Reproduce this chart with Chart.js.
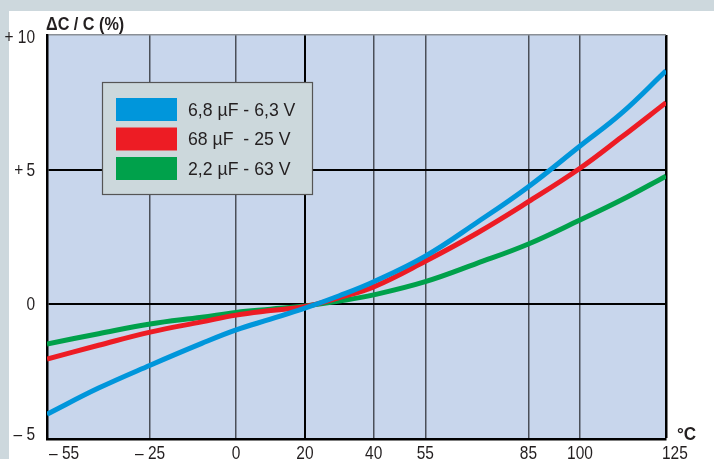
<!DOCTYPE html>
<html lang="en">
<head>
  <meta charset="UTF-8" />
  <title>Capacitance change vs temperature</title>
  <script src="https://cdn.jsdelivr.net/npm/chart.js"></script>
  <style>
    body { margin: 0; background: #fff; }
    #wrap { position: relative; width: 714px; height: 459px; }
    .band { position: absolute; background: #cdd8dd; }
    #bandTop { left: 0; top: 0; width: 714px; height: 11px; }
    #bandLeft { left: 0; top: 0; width: 9px; height: 459px; }
    canvas { position: absolute; left: 0; top: 0; }
  </style>
</head>
<body>
  <div id="wrap">
    <div class="band" id="bandTop"></div>
    <div class="band" id="bandLeft"></div>
    <canvas id="capChart" width="714" height="459"></canvas>
  </div>

  <script>
    // temperature (°C) and ΔC/C (%)
    const temps = [-55, -40, -25, -10, 0, 10, 20, 30, 40, 55, 70, 85, 100, 112, 125];
    const cap68_63V = [-4.08, -3.11, -2.26, -1.45, -0.95, -0.55, -0.14, 0.32, 0.84, 1.79, 3.04, 4.37, 5.88, 7.09, 8.67];
    const cap68_25V = [-2.03, -1.52, -1.03, -0.65, -0.40, -0.23, -0.08, 0.25, 0.65, 1.60, 2.64, 3.81, 5.05, 6.20, 7.49];
    const cap22_63V = [-1.47, -1.09, -0.73, -0.48, -0.30, -0.18, -0.06, 0.12, 0.35, 0.84, 1.52, 2.24, 3.13, 3.87, 4.76];

    const seriesLabels = ["6,8 \u00b5F - 6,3 V", "68 \u00b5F  - 25 V", "2,2 \u00b5F - 63 V"];
    const seriesColors = ["#0096db", "#ed1c24", "#00a14b"];

    const xTicks = [-55, -25, 0, 20, 40, 55, 85, 100, 125];
    const xTickLabels = ["\u2013 55", "\u2013 25", "0", "20", "40", "55", "85", "100", "125"];
    const yTicks = [-5, 0, 5, 10];
    const yTickLabels = ["\u2013 5", "0", "+\u20095", "+ 10"];

    const fontFamily = "'Liberation Sans', Arial, sans-serif";
    const textColor = "#231f20";

    function toPoints(values) {
      return temps.map((t, i) => ({ x: t, y: values[i] }));
    }

    // the original lettering is a condensed face, so squeeze it a bit
    function narrowText(ctx, text, x, y, align, squeeze) {
      ctx.save();
      ctx.translate(x, y);
      ctx.scale(squeeze, 1);
      ctx.textAlign = align;
      ctx.fillText(text, 0, 0);
      ctx.restore();
    }

    const plotBackground = {
      id: "plotBackground",
      beforeDraw(chart) {
        const { ctx, chartArea: a } = chart;
        ctx.save();
        ctx.fillStyle = "#c8d6ec";
        ctx.fillRect(a.left, a.top, a.right - a.left, a.bottom - a.top);
        ctx.restore();
      }
    };

    const axisText = {
      id: "axisText",
      afterDraw(chart) {
        const ctx = chart.ctx;
        const xs = chart.scales.x, ys = chart.scales.y;
        ctx.save();
        ctx.fillStyle = textColor;

        ctx.font = "18px " + fontFamily;
        ctx.textBaseline = "alphabetic";
        xTicks.forEach((v, i) => {
          const px = xs.getPixelForValue(v);
          if (i === 0) narrowText(ctx, xTickLabels[i], px + 2, 459, "left", 0.86);
          else if (i === xTicks.length - 1) narrowText(ctx, xTickLabels[i], px - 4, 459, "left", 0.86);
          else narrowText(ctx, xTickLabels[i], px, 459, "center", 0.86);
        });

        ctx.textBaseline = "middle";
        yTicks.forEach((v, i) => {
          let py = ys.getPixelForValue(v);
          if (i === 0) py -= 5;
          if (i === yTicks.length - 1) py += 2;
          narrowText(ctx, yTickLabels[i], 35, py + 1, "right", 0.86);
        });

        ctx.font = "bold 18px " + fontFamily;
        ctx.textBaseline = "alphabetic";
        narrowText(ctx, "\u0394C / C (%)", 46, 30, "left", 0.9);
        narrowText(ctx, "\u00b0C", 677, 440, "left", 0.95);

        // legend box
        ctx.fillStyle = "#ccd8dc";
        ctx.fillRect(102, 82, 211, 113);
        ctx.strokeStyle = "#555";
        ctx.lineWidth = 1.2;
        ctx.strokeRect(102.5, 82.5, 210, 112);
        ctx.font = "19px " + fontFamily;
        ctx.textBaseline = "middle";
        chart.data.datasets.forEach((ds, i) => {
          const y = 98 + i * 29.5;
          ctx.fillStyle = ds.borderColor;
          ctx.fillRect(116, y, 61, 23);
          ctx.fillStyle = textColor;
          narrowText(ctx, ds.label, 188, y + 12.5, "left", 0.93);
        });
        ctx.restore();
      }
    };

    const ctx = document.getElementById("capChart").getContext("2d");
    new Chart(ctx, {
      type: "line",
      data: {
        datasets: [
          { label: seriesLabels[0], data: toPoints(cap68_63V), borderColor: seriesColors[0] },
          { label: seriesLabels[1], data: toPoints(cap68_25V), borderColor: seriesColors[1] },
          { label: seriesLabels[2], data: toPoints(cap22_63V), borderColor: seriesColors[2] }
        ]
      },
      options: {
        responsive: false,
        animation: false,
        layout: { padding: { top: 35, right: 48, left: 0, bottom: 0 } },
        elements: {
          line: { borderWidth: 5, tension: 0.4, fill: false },
          point: { radius: 0 }
        },
        plugins: {
          legend: { display: false },
          tooltip: { enabled: false }
        },
        scales: {
          x: {
            type: "linear",
            min: -55,
            max: 125,
            afterBuildTicks: scale => { scale.ticks = xTicks.map(v => ({ value: v })); },
            afterFit: scale => { scale.height = 20; },
            ticks: { display: false, autoSkip: false, maxRotation: 0 },
            grid: {
              drawTicks: false,
              color: c => c.tick && (c.tick.value === 20 || c.tick.value === 125) ? "#000" : "#4a4f58",
              lineWidth: c => c.tick && c.tick.value === 125 ? 2.5 : (c.tick && c.tick.value === 20 ? 2 : 1.5)
            },
            border: { color: "#000", width: 2.5 }
          },
          y: {
            min: -5,
            max: 10,
            afterBuildTicks: scale => { scale.ticks = yTicks.map(v => ({ value: v })); },
            afterFit: scale => { scale.width = 47; },
            ticks: { display: false },
            grid: {
              drawTicks: false,
              color: c => c.tick && c.tick.value === 10 ? "#8a8f96" : "#000",
              lineWidth: c => c.tick && c.tick.value === 10 ? 1.5 : 2
            },
            border: { color: "#000", width: 2.5 }
          }
        }
      },
      plugins: [plotBackground, axisText]
    });
  </script>
</body>
</html>
